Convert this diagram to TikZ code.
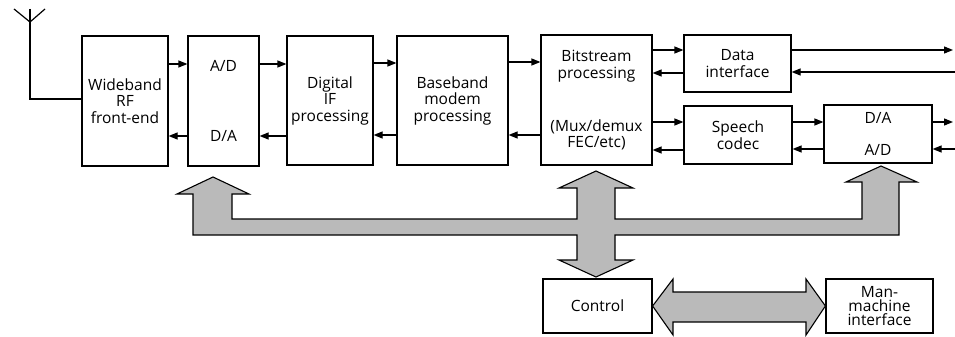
\documentclass[tikz,border=0pt]{standalone}
\usepackage{fontspec}
\setmainfont{Open Sans}
\usetikzlibrary{arrows.meta}
\newcommand\blockfont{\fontsize{15.5}{16.5}\selectfont}
\begin{document}
\begin{tikzpicture}[x=1pt,y=-1pt,
  box/.style={draw, line width=1.2pt, inner sep=0pt, align=center, font=\blockfont},
  lbl/.style={inner sep=0pt, align=center, font=\blockfont},
  sig/.style={line width=1.2pt, -{Triangle[length=9pt,width=7pt]}},
  bus/.style={draw, line width=1.1pt, fill=black!27, line join=miter}]
\useasboundingbox (0,0) rectangle (955,337);

% processing blocks
\node[box, minimum width=86pt, minimum height=130pt] (rf) at (125,101) {Wideband\\RF\\front-end};
\node[box, minimum width=71pt, minimum height=130pt] (ad) at (223.5,101) {};
\node[lbl] (adtop) at (223.5,66) {A/D};
\node[lbl] (adbot) at (223.5,136) {D/A};
\node[box, minimum width=86pt, minimum height=129pt] (ifp) at (330,100.5) {Digital\\IF\\processing};
\node[box, minimum width=111pt, minimum height=129pt] (bb) at (452.5,100.5) {Baseband\\modem\\processing};
\node[box, minimum width=111pt, minimum height=130pt] (bs) at (596.5,100) {};
\node[lbl] (bstop) at (596.5,66) {Bitstream\\processing};
\node[lbl] (bsbot) at (596.5,135) {(Mux/demux\\FEC/etc)};
\node[box, minimum width=107pt, minimum height=57pt] (di) at (737.5,63.5) {Data\\interface};
\node[box, minimum width=108pt, minimum height=58pt] (sc) at (738,135) {Speech\\codec};
\node[box, minimum width=108pt, minimum height=58pt] (da) at (878,134) {};
\node[lbl] (datop) at (878,118) {D/A};
\node[lbl] (dabot) at (878,150) {A/D};
\node[box, minimum width=109pt, minimum height=54pt] (ctl) at (597.5,306) {Control};
\node[box, minimum width=107pt, minimum height=54pt, font=\fontsize{15.5}{14}\selectfont] (mmi) at (879.5,306) {Man-\\machine\\interface};

% antenna
\coordinate (antv) at (30,22);
\coordinate (antl) at (14,9);
\coordinate (antr) at (45,9);
\coordinate (antt) at (30,9);
\coordinate (antb) at (30,99);
\draw[line width=1.2pt] (antl) -- (antv) -- (antr);
\draw[line width=1.2pt] (antt) -- (antb) -- (rf.west |- antb);

% signal paths
\draw[sig] (rf.east |- 0,64) -- (ad.west |- 0,64);
\draw[sig] (ad.west |- 0,136) -- (rf.east |- 0,136);
\draw[sig] (ad.east |- 0,64) -- (ifp.west |- 0,64);
\draw[sig] (ifp.west |- 0,136) -- (ad.east |- 0,136);
\draw[sig] (ifp.east |- 0,63) -- (bb.west |- 0,63);
\draw[sig] (bb.west |- 0,135) -- (ifp.east |- 0,135);
\draw[sig] (bb.east |- 0,62) -- (bs.west |- 0,62);
\draw[sig] (bs.west |- 0,135) -- (bb.east |- 0,135);
\draw[sig] (bs.east |- 0,50) -- (di.west |- 0,50);
\draw[sig] (di.west |- 0,73) -- (bs.east |- 0,73);
\draw[sig] (bs.east |- 0,122) -- (sc.west |- 0,122);
\draw[sig] (sc.west |- 0,150) -- (bs.east |- 0,150);
\draw[sig] (sc.east |- 0,122) -- (da.west |- 0,122);
\draw[sig] (da.west |- 0,149) -- (sc.east |- 0,149);

% external ports
\coordinate (dataout) at (953,50);
\coordinate (datain) at (955,72);
\coordinate (audout) at (953,122);
\coordinate (audin) at (955,149);
\draw[sig] (di.east |- dataout) -- (dataout);
\draw[sig] (datain) -- (di.east |- datain);
\draw[sig] (da.east |- audout) -- (audout);
\draw[sig] (audin) -- (da.east |- audin);

% control bus
\draw[bus] (193,235) -- (193,194) -- (177,194) -- (213,177) -- (249,194) -- (232,194)
  -- (232,219) -- (577,219) -- (577,188) -- (559,188) -- (596,171) -- (633,188)
  -- (615,188) -- (615,219) -- (862,219) -- (862,182) -- (846,182) -- (881,166)
  -- (917,182) -- (899,182) -- (899,235) -- (615,235) -- (615,260) -- (633,260)
  -- (596,277) -- (559,260) -- (577,260) -- (577,235) -- cycle;

% link between control and man-machine interface
\draw[bus] (ctl.east) -- (673,279) -- (673,292) -- (806,292) -- (806,279) -- (mmi.west)
  -- (806,335) -- (806,322) -- (673,322) -- (673,335) -- cycle;
\end{tikzpicture}
\end{document}
